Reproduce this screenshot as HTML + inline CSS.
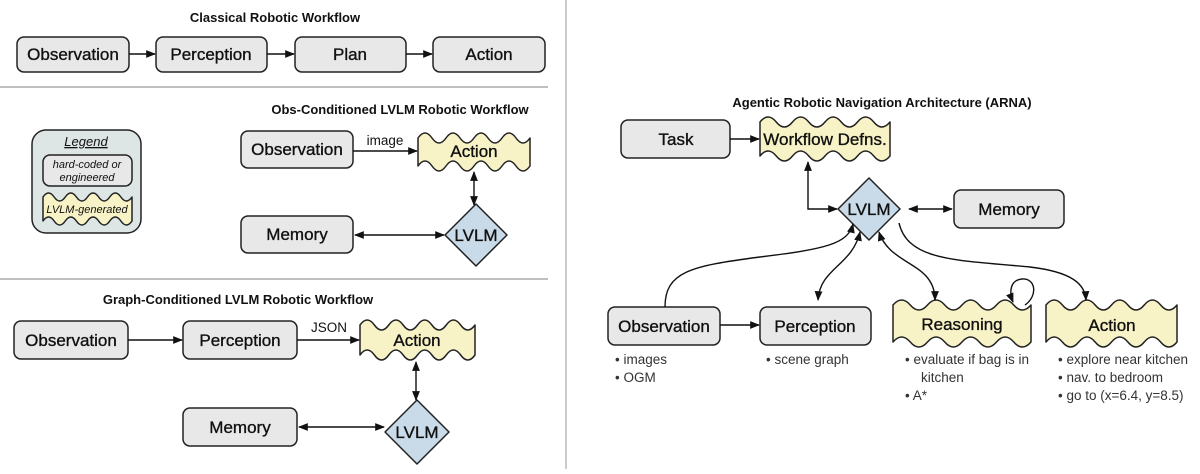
<!DOCTYPE html>
<html><head><meta charset="utf-8"><style>
body{margin:0;background:#fff}
svg text{font-family:"Liberation Sans",sans-serif;fill:#111}
.b{fill:#e8e8e8;stroke:#222;stroke-width:1.5}
.y{fill:#f8f3c6;stroke:#222;stroke-width:1.5;stroke-linejoin:round}
.d{fill:#c9dbe8;stroke:#222;stroke-width:1.5}
.l{fill:none;stroke:#111;stroke-width:1.4}
.t{font-size:17px;text-anchor:middle;stroke:#111;stroke-width:0.35}
.h{font-size:13px;font-weight:bold;text-anchor:middle}
.s{font-size:13.5px;fill:#333}
</style></head><body>
<svg width="1200" height="469" viewBox="0 0 1200 469" xmlns="http://www.w3.org/2000/svg">
<defs>
<marker id="a" viewBox="0 0 10 10" refX="9" refY="5" markerWidth="7" markerHeight="7" orient="auto-start-reverse"><path d="M0,1 L10,5 L0,9 Z" fill="#111"/></marker>
</defs>
<line x1="0" y1="87" x2="548" y2="87" stroke="#aaa" stroke-width="1.5"/>
<line x1="0" y1="279" x2="548" y2="279" stroke="#aaa" stroke-width="1.5"/>
<line x1="566" y1="0" x2="566" y2="469" stroke="#bbb" stroke-width="1.5"/>

<!-- Classical -->
<text x="275" y="22" class="h">Classical Robotic Workflow</text>
<rect x="17" y="37" width="112" height="35" rx="7" class="b"/><text x="73" y="60" class="t">Observation</text>
<rect x="156" y="37" width="111" height="35" rx="7" class="b"/><text x="211" y="60" class="t">Perception</text>
<rect x="295" y="37" width="111" height="35" rx="7" class="b"/><text x="350" y="60" class="t">Plan</text>
<rect x="433" y="37" width="112" height="35" rx="7" class="b"/><text x="489" y="60" class="t">Action</text>
<line x1="129" y1="54" x2="155" y2="54" class="l" marker-end="url(#a)"/>
<line x1="267" y1="54" x2="294" y2="54" class="l" marker-end="url(#a)"/>
<line x1="406" y1="54" x2="432" y2="54" class="l" marker-end="url(#a)"/>

<!-- Legend -->
<rect x="32" y="130" width="109" height="103" rx="14" fill="#dde5e5" stroke="#222" stroke-width="1.5"/>
<text x="86" y="146" font-size="13" font-style="italic" text-anchor="middle" text-decoration="underline">Legend</text>
<rect x="43" y="155" width="89" height="31" rx="7" class="b"/>
<text x="87" y="168" font-size="11" font-style="italic" text-anchor="middle" fill="#444">hard-coded or</text>
<text x="87" y="181" font-size="11" font-style="italic" text-anchor="middle" fill="#444">engineered</text>
<path class="y" d="M43,197 q5.56,-8 11.125,0 t11.125,0 t11.125,0 t11.125,0 t11.125,0 t11.125,0 t11.125,0 t11.125,0 L132,221 q-5.56,8 -11.125,0 t-11.125,0 t-11.125,0 t-11.125,0 t-11.125,0 t-11.125,0 t-11.125,0 t-11.125,0 Z"/>
<text x="87" y="213" font-size="11" font-style="italic" text-anchor="middle" fill="#444">LVLM-generated</text>

<!-- Obs-conditioned -->
<text x="400" y="114" class="h">Obs-Conditioned LVLM Robotic Workflow</text>
<rect x="241" y="131" width="112" height="37" rx="7" class="b"/><text x="297" y="155" class="t">Observation</text>
<path class="y" d="M418,138 q7,-10 14,0 t14,0 t14,0 t14,0 t14,0 t14,0 t14,0 t14,0 L530,166 q-7,10 -14,0 t-14,0 t-14,0 t-14,0 t-14,0 t-14,0 t-14,0 t-14,0 Z"/>
<text x="474" y="157" class="t">Action</text>
<text x="385" y="145" font-size="13.5" text-anchor="middle" fill="#333">image</text>
<line x1="353" y1="151" x2="417" y2="151" class="l" marker-end="url(#a)"/>
<rect x="241" y="216" width="112" height="37" rx="7" class="b"/><text x="297" y="240" class="t">Memory</text>
<path class="d" d="M476,204 L507,235 L476,266 L445,235 Z" stroke-linejoin="round"/>
<text x="476" y="241" class="t">LVLM</text>
<line x1="474" y1="172" x2="474" y2="205" class="l" marker-start="url(#a)" marker-end="url(#a)"/>
<line x1="355" y1="235" x2="444" y2="235" class="l" marker-start="url(#a)" marker-end="url(#a)"/>

<!-- Graph-conditioned -->
<text x="238" y="304" class="h">Graph-Conditioned LVLM Robotic Workflow</text>
<rect x="14" y="321" width="114" height="38" rx="7" class="b"/><text x="71" y="346" class="t">Observation</text>
<rect x="183" y="321" width="114" height="38" rx="7" class="b"/><text x="240" y="346" class="t">Perception</text>
<path class="y" d="M360,325 q7.19,-10 14.375,0 t14.375,0 t14.375,0 t14.375,0 t14.375,0 t14.375,0 t14.375,0 t14.375,0 L475,355 q-7.19,10 -14.375,0 t-14.375,0 t-14.375,0 t-14.375,0 t-14.375,0 t-14.375,0 t-14.375,0 t-14.375,0 Z"/>
<text x="417" y="346" class="t">Action</text>
<text x="329" y="332" font-size="13.5" text-anchor="middle" fill="#333">JSON</text>
<line x1="128" y1="340" x2="182" y2="340" class="l" marker-end="url(#a)"/>
<line x1="297" y1="340" x2="359" y2="340" class="l" marker-end="url(#a)"/>
<rect x="183" y="408" width="114" height="38" rx="7" class="b"/><text x="240" y="433" class="t">Memory</text>
<path class="d" d="M417,400 L449,432 L417,464 L385,432 Z" stroke-linejoin="round"/>
<text x="417" y="438" class="t">LVLM</text>
<line x1="416" y1="362" x2="416" y2="400" class="l" marker-start="url(#a)" marker-end="url(#a)"/>
<line x1="299" y1="427" x2="384" y2="427" class="l" marker-start="url(#a)" marker-end="url(#a)"/>

<!-- ARNA -->
<text x="882" y="107" class="h">Agentic Robotic Navigation Architecture (ARNA)</text>
<rect x="621" y="120" width="109" height="38" rx="7" class="b"/><text x="676" y="145" class="t">Task</text>
<path class="y" d="M760,122 q8.125,-10 16.25,0 t16.25,0 t16.25,0 t16.25,0 t16.25,0 t16.25,0 t16.25,0 t16.25,0 L890,156 q-8.125,10 -16.25,0 t-16.25,0 t-16.25,0 t-16.25,0 t-16.25,0 t-16.25,0 t-16.25,0 t-16.25,0 Z"/>
<text x="825" y="145" class="t">Workflow Defns.</text>
<line x1="730" y1="139" x2="759" y2="139" class="l" marker-end="url(#a)"/>
<path class="d" d="M869,178 L900,209 L869,240 L838,209 Z" stroke-linejoin="round"/>
<text x="869" y="215" class="t">LVLM</text>
<rect x="954" y="190" width="110" height="38" rx="7" class="b"/><text x="1009" y="215" class="t">Memory</text>
<line x1="909" y1="209" x2="952" y2="209" class="l" marker-start="url(#a)" marker-end="url(#a)"/>
<path d="M837,209 L808,209 L808,162" class="l" marker-start="url(#a)" marker-end="url(#a)"/>

<rect x="608" y="307" width="112" height="38" rx="7" class="b"/><text x="664" y="332" class="t">Observation</text>
<rect x="760" y="307" width="111" height="38" rx="7" class="b"/><text x="815" y="332" class="t">Perception</text>
<line x1="720" y1="325" x2="759" y2="325" class="l" marker-end="url(#a)"/>
<path class="y" d="M893,305 q8.625,-10 17.25,0 t17.25,0 t17.25,0 t17.25,0 t17.25,0 t17.25,0 t17.25,0 t17.25,0 L1031,342 q-8.625,10 -17.25,0 t-17.25,0 t-17.25,0 t-17.25,0 t-17.25,0 t-17.25,0 t-17.25,0 t-17.25,0 Z"/>
<text x="962" y="330" class="t">Reasoning</text>
<path class="y" d="M1046,305 q8.19,-10 16.375,0 t16.375,0 t16.375,0 t16.375,0 t16.375,0 t16.375,0 t16.375,0 t16.375,0 L1177,342 q-8.19,10 -16.375,0 t-16.375,0 t-16.375,0 t-16.375,0 t-16.375,0 t-16.375,0 t-16.375,0 t-16.375,0 Z"/>
<text x="1112" y="331" class="t">Action</text>

<path d="M665,307 C665,272 690,266 760,257 C825,249 848,244 853,224" class="l" marker-end="url(#a)"/>
<path d="M860,232 C852,266 820,268 818,300" class="l" marker-start="url(#a)" marker-end="url(#a)"/>
<path d="M879,232 C890,266 935,262 935,300" class="l" marker-start="url(#a)" marker-end="url(#a)"/>
<path d="M899,223 C908,262 960,260 1030,267 C1072,272 1085,284 1086,300" class="l" marker-end="url(#a)"/>
<path d="M1025,305 C1038,296 1036,278 1022,279 C1010,280 1009,292 1013,302" class="l" marker-end="url(#a)"/>

<g class="s">
<text x="615" y="364" class="s">•  images</text>
<text x="615" y="382" class="s">•  OGM</text>
<text x="766" y="364" class="s">•  scene graph</text>
<text x="905" y="364" class="s">•  evaluate if bag is in</text>
<text x="921" y="382" class="s">kitchen</text>
<text x="905" y="400" class="s">•  A*</text>
<text x="1058" y="364" class="s">•  explore near kitchen</text>
<text x="1058" y="382" class="s">•  nav. to bedroom</text>
<text x="1058" y="400" class="s">•  go to (x=6.4, y=8.5)</text>
</g>
</svg>
</body></html>
